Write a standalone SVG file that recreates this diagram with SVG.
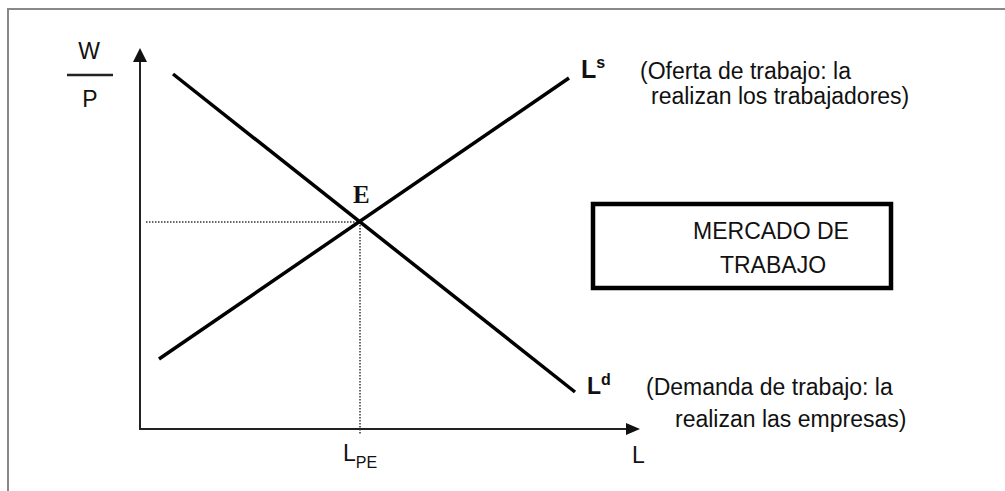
<svg xmlns="http://www.w3.org/2000/svg" width="1005" height="491" viewBox="0 0 1005 491">
<style>
.t{font-family:"Liberation Sans",Arial,sans-serif;font-size:23px;fill:#111}
.b{font-family:"Liberation Sans",Arial,sans-serif;font-weight:bold;fill:#111}
.curve{stroke:#000;stroke-width:3.5;fill:none}
.axis{stroke:#222;stroke-width:2;fill:none}
.dot{stroke:#333;stroke-width:1.5;stroke-dasharray:1.5 1.5;fill:none}
</style>
<rect width="1005" height="491" fill="#fff"/>
<path d="M8,491 V9 H1005" stroke="#888" stroke-width="2" fill="none"/>
<g id="connectors">
<line class="axis" x1="140" y1="430" x2="140" y2="58"/>
<polygon points="140,48 133,62 147,62" fill="#111"/>
<line class="axis" x1="139" y1="429" x2="628" y2="429"/>
<polygon points="640,429 626,423 626,435" fill="#111"/>
<line class="dot" x1="146" y1="222" x2="360" y2="222"/>
<line class="dot" x1="360" y1="222" x2="360" y2="435"/>
<line class="curve" x1="173" y1="74" x2="575" y2="392"/>
<line class="curve" x1="159" y1="359" x2="569" y2="78"/>
</g>
<g id="axis-y-label">
<text class="t" x="89" y="59" text-anchor="middle">W</text>
<line x1="67" y1="75" x2="113" y2="75" stroke="#222" stroke-width="2.5"/>
<text class="t" x="90" y="107" text-anchor="middle">P</text>
</g>
<g id="axis-x-label"><text class="t" x="632" y="463">L</text></g>
<g id="lpe"><text class="t" x="343" y="461">L<tspan font-size="16" dy="7">PE</tspan></text></g>
<g id="point-e"><text x="353" y="203" font-family="Liberation Serif,Times New Roman,serif" font-weight="bold" font-size="25" fill="#111">E</text></g>
<g id="ls"><text class="b" x="581" y="78" font-size="25">L<tspan font-size="16" dy="-10">s</tspan></text></g>
<g id="ld"><text class="b" x="587" y="394" font-size="23">L<tspan font-size="16" dy="-9">d</tspan></text></g>
<g id="oferta">
<text class="t" x="640" y="79">(Oferta de trabajo: la</text>
<text class="t" x="651" y="104">realizan los trabajadores)</text>
</g>
<g id="demanda">
<text class="t" x="646" y="395">(Demanda de trabajo: la</text>
<text class="t" x="675" y="427">realizan las empresas)</text>
</g>
<g id="mercado">
<rect x="593" y="204" width="298" height="84" fill="none" stroke="#000" stroke-width="4.5"/>
<text class="t" x="771" y="239" font-size="27.5" text-anchor="middle">MERCADO DE</text>
<text class="t" x="773" y="273" font-size="27.5" text-anchor="middle">TRABAJO</text>
</g>
</svg>
